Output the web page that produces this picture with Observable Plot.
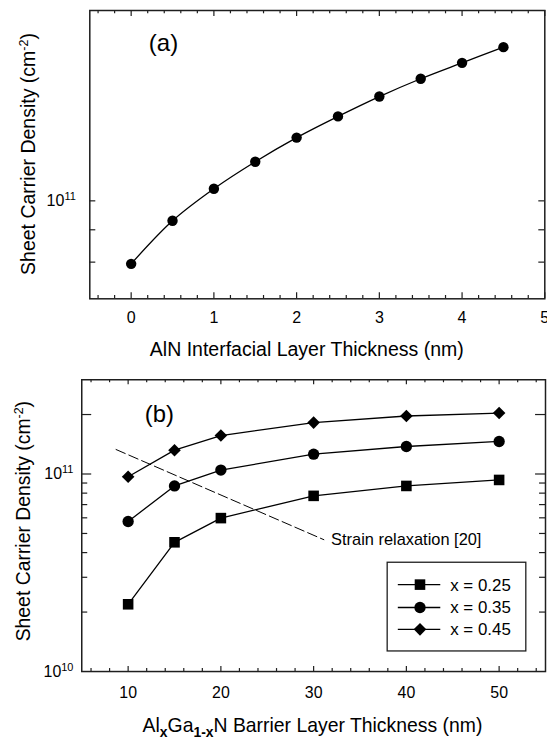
<!DOCTYPE html>
<html><head><meta charset="utf-8">
<script src="https://cdn.jsdelivr.net/npm/d3@7"></script>
<script src="https://cdn.jsdelivr.net/npm/@observablehq/plot@0.6"></script>
<style>
html,body{margin:0;padding:0;background:#fff;overflow:hidden;}
#wrap{position:relative;width:547px;height:740px;overflow:hidden;background:#fff;}
#wrap svg{position:absolute;left:0;overflow:visible;}
</style></head><body><div id="wrap"></div>
<script>
// ---------- data ----------
const aThickness = [0, 0.5, 1, 1.5, 2, 2.5, 3, 3.5, 4, 4.5];
const aDensity = [7.95e10, 9.30e10, 1.045e11, 1.153e11, 1.259e11, 1.36e11, 1.462e11, 1.56e11, 1.653e11, 1.75e11];
const aXTicks = [0, 1, 2, 3, 4, 5];
const aXMinor = [-0.4, -0.2, 0.2, 0.4, 0.6, 0.8, 1.2, 1.4, 1.6, 1.8, 2.2, 2.4, 2.6, 2.8, 3.2, 3.4, 3.6, 3.8, 4.2, 4.4, 4.6, 4.8];
const aYTickLabels = [1e11];
const aYTicks = [8e10, 9e10, 1e11];

const bThickness = [10, 15, 20, 30, 40, 50];
const bSeries = ["x = 0.25", "x = 0.35", "x = 0.45"];
const bDensity025 = [2.19e10, 4.51e10, 5.98e10, 7.75e10, 8.70e10, 9.33e10];
const bDensity035 = [5.75e10, 8.70e10, 1.047e11, 1.26e11, 1.378e11, 1.461e11];
const bDensity045 = [9.69e10, 1.32e11, 1.566e11, 1.82e11, 1.966e11, 2.035e11];
const bXTicks = [10, 20, 30, 40, 50];
const bXMinor = [6, 8, 12, 14, 16, 18, 22, 24, 26, 28, 32, 34, 36, 38, 42, 44, 46, 48, 52, 54];
const bYTickLabels = [1e10, 1e11];
const bYMajor = [1e11, 2e11];
const bYMinor = [2e10, 3e10, 4e10, 5e10, 6e10, 7e10, 8e10, 9e10];
const strainThickness = [8.7, 31.1];
const strainDensity = [1.33e11, 4.65e10];
const strainLabel = "Strain relaxation [20]";

// ---------- helpers ----------
const FONT = '"Liberation Sans", Arial, Helvetica, sans-serif';
const AX = "#1e1e1e";
const TICKFONT = 16;
const supFmt = d => "10^" + Math.round(Math.log10(d));

function xTicks(values, len, innerH) {
  return [
    Plot.ruleX(values, {x: d => d, insetTop: innerH - len, stroke: AX, strokeWidth: 1.2}),
    Plot.ruleX(values, {x: d => d, insetBottom: innerH - len, stroke: AX, strokeWidth: 1.2})
  ];
}
function yTicks(values, len, innerW) {
  return [
    Plot.ruleY(values, {y: d => d, insetRight: innerW - len, stroke: AX, strokeWidth: 1.2}),
    Plot.ruleY(values, {y: d => d, insetLeft: innerW - len, stroke: AX, strokeWidth: 1.2})
  ];
}
function superscripts(svg) {
  d3.select(svg).selectAll("text").each(function () {
    const m = /^10\^(\d+)$/.exec(this.textContent);
    if (m) {
      const el = d3.select(this);
      el.text("10");
      el.append("tspan").attr("dy", "-6px").attr("font-size", "11px").text(m[1]);
    }
  });
}
function rich(parent, parts, attrs) {
  const t = parent.append("text").attr("font-family", FONT).attr("fill", "black");
  for (const k in attrs) t.attr(k, attrs[k]);
  parts.forEach(p => {
    const ts = t.append("tspan").text(p.text);
    if (p.size) ts.attr("font-size", p.size + "px");
    if (p.dy) ts.attr("dy", p.dy + "px");
    if (p.bold) ts.attr("font-weight", "bold");
  });
  return t;
}

const wrap = document.getElementById("wrap");

// ---------- panel (a) ----------
const A = {w: 547, h: 370, top: 10, right: 2.7, bottom: 71.7, left: 89.3};
const aInnerH = A.h - A.top - A.bottom, aInnerW = A.w - A.left - A.right;
const aData = aThickness.map((t, i) => ({t, n: aDensity[i]}));

const plotA = Plot.plot({
  width: A.w, height: A.h,
  marginTop: A.top, marginRight: A.right, marginBottom: A.bottom, marginLeft: A.left,
  style: {fontFamily: FONT, background: "transparent", color: "black", overflow: "visible"},
  x: {type: "linear", domain: [-0.5, 5]},
  y: {type: "log", domain: [7e10, 2e11]},
  marks: [
    ...xTicks(aXTicks, 6, aInnerH),
    ...xTicks(aXMinor, 3.3, aInnerH),
    ...yTicks(aYTicks, 6, aInnerW),
    Plot.frame({stroke: AX, strokeWidth: 1.5}),
    Plot.axisX(aXTicks, {tickSize: 0, tickPadding: 13, fontSize: TICKFONT, label: null, tickFormat: d => String(d)}),
    Plot.axisY(aYTickLabels, {tickSize: 0, tickPadding: 14, fontSize: TICKFONT, label: null, tickFormat: supFmt}),
    Plot.line(aData, {x: "t", y: "n", curve: "catmull-rom", stroke: "black", strokeWidth: 1.3}),
    Plot.dot(aData, {x: "t", y: "n", r: 5.2, fill: "black", stroke: "none"}),
    Plot.text(["(a)"], {text: d => d, frameAnchor: "top-left", dx: 163 - A.left, dy: 43 - A.top, fontSize: 24, textAnchor: "middle", lineAnchor: "middle"})
  ]
});
plotA.style.top = "0px";
wrap.appendChild(plotA);
superscripts(plotA);
const sA = d3.select(plotA);
rich(sA, [{text: "Sheet Carrier Density (cm"}, {text: "-2", size: 12.5, dy: -7}, {text: ")", size: 19.5, dy: 7}],
  {transform: "translate(35,154) rotate(-90)", "text-anchor": "middle", "font-size": "19.5px"});
rich(sA, [{text: "AlN Interfacial Layer Thickness (nm)"}],
  {x: 306.8, y: 355.7, "text-anchor": "middle", "font-size": "19.5px"});

// ---------- panel (b) ----------
const B = {w: 550, h: 370, top: 9.3, right: 2, bottom: 67.3, left: 81.7, offset: 370};
const bInnerH = B.h - B.top - B.bottom, bInnerW = B.w - B.left - B.right;
const bCols = [bDensity025, bDensity035, bDensity045];
const bData = bSeries.map((s, k) => bThickness.map((t, i) => ({series: s, t, n: bCols[k][i]})));
const bSymbols = [{symbol: "square", r: 6.0}, {symbol: "circle", r: 5.7}, {symbol: "diamond2", r: 5.7}];
const strainData = strainThickness.map((t, i) => ({t, n: strainDensity[i]}));

const plotB = Plot.plot({
  width: B.w, height: B.h,
  marginTop: B.top, marginRight: B.right, marginBottom: B.bottom, marginLeft: B.left,
  style: {fontFamily: FONT, background: "transparent", color: "black", overflow: "visible"},
  x: {type: "linear", domain: [5, 55]},
  y: {type: "log", domain: [1e10, 3e11]},
  marks: [
    ...xTicks(bXTicks, 5, bInnerH),
    ...xTicks(bXMinor, 3, bInnerH),
    ...yTicks(bYMajor, 10, bInnerW),
    ...yTicks(bYMinor, 6, bInnerW),
    Plot.frame({stroke: AX, strokeWidth: 1.5}),
    Plot.axisX(bXTicks, {tickSize: 0, tickPadding: 15, fontSize: TICKFONT, label: null, tickFormat: d => String(d)}),
    Plot.axisY(bYTickLabels, {tickSize: 0, tickPadding: 8.4, fontSize: TICKFONT, label: null, tickFormat: supFmt}),
    Plot.line(strainData, {x: "t", y: "n", stroke: "black", strokeWidth: 1, strokeDasharray: "10,4"}),
    Plot.text([strainData[1]], {x: "t", y: "n", text: () => strainLabel, textAnchor: "start", dx: 7.3, fontSize: 16.5, lineAnchor: "middle"}),
    ...bData.map(d => Plot.line(d, {x: "t", y: "n", stroke: "black", strokeWidth: 1.3})),
    ...bData.map((d, k) => Plot.dot(d, {x: "t", y: "n", symbol: bSymbols[k].symbol, r: bSymbols[k].r, fill: "black", stroke: "none"})),
    Plot.text(["(b)"], {text: d => d, frameAnchor: "top-left", dx: 159.7 - B.left, dy: 414 - B.offset - B.top, fontSize: 24, textAnchor: "middle", lineAnchor: "middle"})
  ]
});
plotB.style.top = B.offset + "px";
wrap.appendChild(plotB);
superscripts(plotB);
const sB = d3.select(plotB);
rich(sB, [{text: "Sheet Carrier Density (cm"}, {text: "-2", size: 12.5, dy: -7}, {text: ")", size: 19.5, dy: 7}],
  {transform: `translate(30.5,${522 - B.offset}) rotate(-90)`, "text-anchor": "middle", "font-size": "19.5px"});
rich(sB, [{text: "Al"}, {text: "x", size: 14, dy: 5.5, bold: true}, {text: "Ga", size: 19.5, dy: -5.5},
          {text: "1-x", size: 14, dy: 5.5, bold: true}, {text: "N Barrier Layer Thickness (nm)", size: 19.5, dy: -5.5}],
  {x: 314.2, y: 734 - B.offset, "text-anchor": "middle", "font-size": "19.5px"});

// legend box
const lg = sB.append("g");
const box = {x: 389.3, y: 563.3 - B.offset, w: 139.4, h: 89.2};
lg.append("rect").attr("x", box.x).attr("y", box.y).attr("width", box.w).attr("height", box.h)
  .attr("fill", "white").attr("stroke", AX).attr("stroke-width", 1.3);
const rowY = [585.8, 608.8, 630.8].map(v => v - B.offset);
const d3Sym = {square: d3.symbolSquare, circle: d3.symbolCircle, diamond2: d3.symbolDiamond2};
bSeries.forEach((s, k) => {
  const y = rowY[k];
  lg.append("line").attr("x1", 400).attr("x2", 442.7).attr("y1", y).attr("y2", y).attr("stroke", "black").attr("stroke-width", 1.3);
  const r = bSymbols[k].r;
  lg.append("path").attr("d", d3.symbol(d3Sym[bSymbols[k].symbol], Math.PI * r * r)())
    .attr("transform", `translate(422.3,${y})`).attr("fill", "black");
  lg.append("text").attr("x", 452.7).attr("y", y).attr("dy", "0.35em").attr("font-size", "17px")
    .attr("text-anchor", "start").attr("font-family", FONT).attr("fill", "black").text(s);
});
</script></body></html>
